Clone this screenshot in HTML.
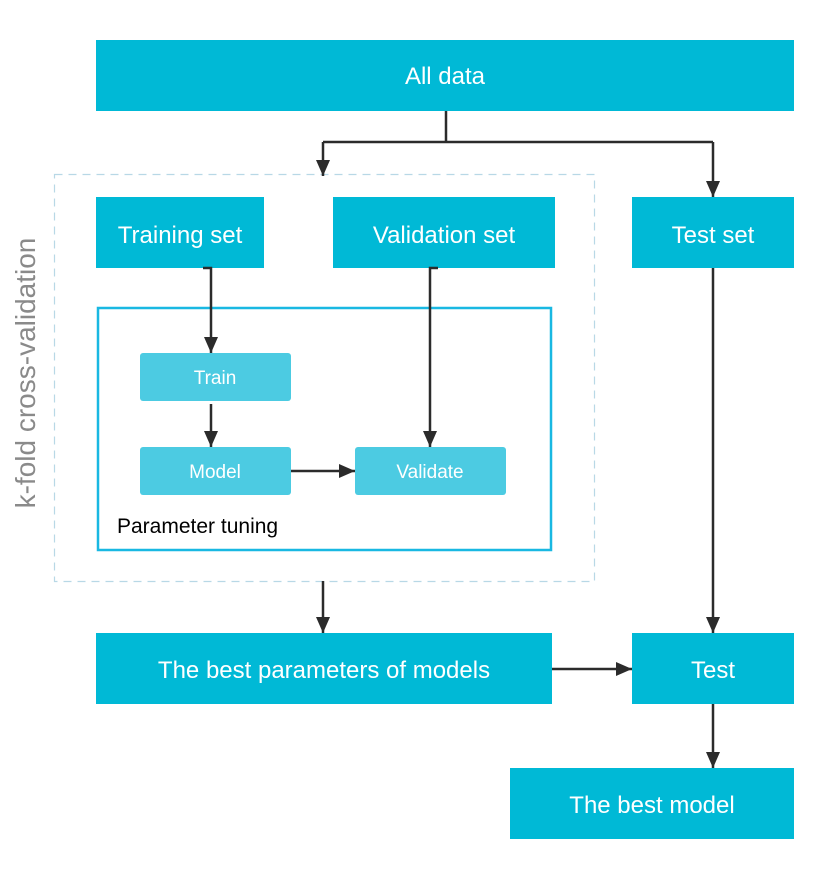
<!DOCTYPE html>
<html><head><meta charset="utf-8"><style>
html,body{margin:0;padding:0;background:#fff;width:834px;height:880px;overflow:hidden}
svg{display:block}
text{font-family:"Liberation Sans",sans-serif}
</style></head><body>
<svg width="834" height="880" viewBox="0 0 834 880" xmlns="http://www.w3.org/2000/svg">
<defs>
<marker id="a" viewBox="0 0 10 10" refX="10" refY="5" markerWidth="8" markerHeight="8" markerUnits="userSpaceOnUse" orient="auto">
<path d="M0,0 L10,5 L0,10 z" fill="#2b2b2b"/></marker>
<marker id="b" viewBox="0 0 16 16" refX="16" refY="8" markerWidth="16" markerHeight="16" markerUnits="userSpaceOnUse" orient="auto">
<path d="M0,1 L16,8 L0,15 z" fill="#2b2b2b"/></marker>
</defs>
<g fill="#00b9d6">
<rect x="96" y="40" width="698" height="71"/>
<rect x="96" y="197" width="168" height="71"/>
<rect x="333" y="197" width="222" height="71"/>
<rect x="632" y="197" width="162" height="71"/>
<rect x="96" y="633" width="456" height="71"/>
<rect x="632" y="633" width="162" height="71"/>
<rect x="510" y="768" width="284" height="71"/>
</g>
<rect x="54.5" y="174.5" width="540" height="407" fill="none" stroke="#b8d8e6" stroke-width="1.2" stroke-dasharray="8,6"/>
<rect x="98" y="308" width="453" height="242" fill="none" stroke="#19b8e2" stroke-width="2.5"/>
<g fill="#4ccbe2">
<rect x="140" y="353" width="151" height="48" rx="3"/>
<rect x="140" y="447" width="151" height="48" rx="3"/>
<rect x="355" y="447" width="151" height="48" rx="3"/>
</g>
<g stroke="#2b2b2b" stroke-width="2.5" fill="none">
<path d="M446 111 V142 M323 142 H713"/>
<path d="M323 142 V176" marker-end="url(#b)"/>
<path d="M713 142 V197" marker-end="url(#b)"/>
<path d="M203 268 H211 V353" marker-end="url(#b)"/>
<path d="M438 268 H430 V447" marker-end="url(#b)"/>
<path d="M211 404 V447" marker-end="url(#b)"/>
<path d="M291 471 H355" marker-end="url(#b)"/>
<path d="M323 581 V633" marker-end="url(#b)"/>
<path d="M552 669 H632" marker-end="url(#b)"/>
<path d="M713 268 V633" marker-end="url(#b)"/>
<path d="M713 704 V768" marker-end="url(#b)"/>
</g>
<g fill="#fff" text-anchor="middle" font-size="24">
<text x="445" y="84">All data</text>
<text x="180" y="243">Training set</text>
<text x="444" y="243">Validation set</text>
<text x="713" y="243">Test set</text>
<text x="324" y="678">The best parameters of models</text>
<text x="713" y="678">Test</text>
<text x="652" y="813">The best model</text>
</g>
<g fill="#fff" text-anchor="middle" font-size="19">
<text x="215" y="384">Train</text>
<text x="215" y="478">Model</text>
<text x="430" y="478">Validate</text>
</g>
<text x="117" y="533" font-size="21" fill="#000">Parameter tuning</text>
<text x="0" y="0" font-size="28" fill="#8a8a8a" text-anchor="middle" transform="translate(35,373) rotate(-90)">k-fold cross-validation</text>
</svg>
</body></html>
